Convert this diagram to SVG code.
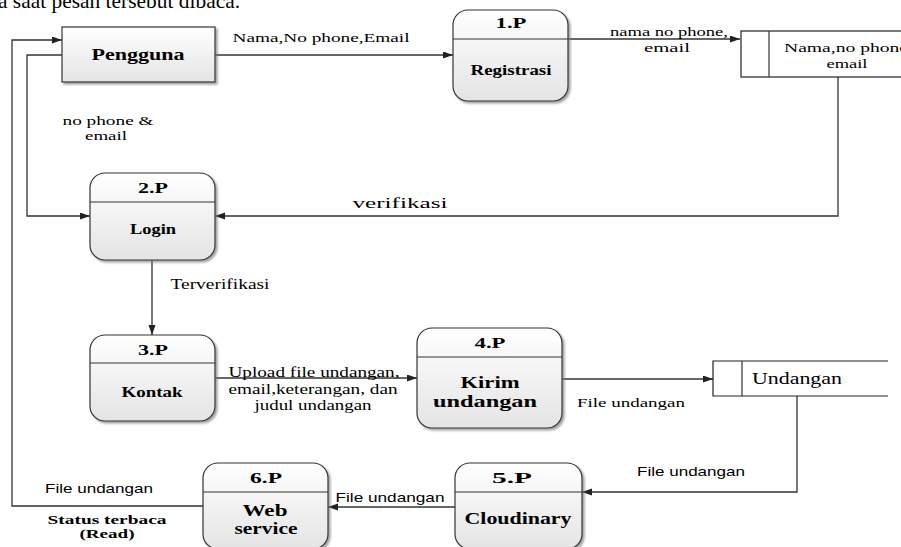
<svg xmlns="http://www.w3.org/2000/svg" width="901" height="547" viewBox="0 0 901 547">
<style>
.n{font-family:"Liberation Serif","Times New Roman",serif;font-weight:bold;fill:#000;text-anchor:middle}
.t{font-family:"Liberation Serif","Times New Roman",serif;fill:#000;text-anchor:middle}
.s{font-family:"Liberation Sans",Arial,sans-serif;fill:#000;text-anchor:middle}
.box{fill:url(#g);stroke:#333;stroke-width:1.2;filter:url(#sh)}
.div{stroke:#333;stroke-width:1.2}
.c{fill:none;stroke:#333;stroke-width:1.3;marker-end:url(#a)}
.st{fill:#fff;stroke:#222;stroke-width:1.2}
</style>
<defs>
<linearGradient id="g" x1="0" y1="0" x2="0" y2="1"><stop offset="0" stop-color="#ffffff"/><stop offset="1" stop-color="#e4e4e4"/></linearGradient>
<filter id="sh" x="-10%" y="-10%" width="130%" height="130%"><feDropShadow dx="2" dy="2" stdDeviation="1" flood-color="#777" flood-opacity="0.7"/></filter>
<marker id="a" markerWidth="11" markerHeight="8" refX="10" refY="3.5" orient="auto" markerUnits="userSpaceOnUse"><path d="M0,0 L10,3.5 L0,7 z" fill="#222"/></marker>
</defs>
<text x="-2" y="8" font-family="Liberation Serif,serif" font-size="21" textLength="242" lengthAdjust="spacingAndGlyphs">a saat pesan tersebut dibaca.</text>
<g id="connectors">
<path class="c" d="M215,55 H453"/>
<path class="c" d="M568,39 H740"/>
<path class="c" d="M838,77 V216 H215"/>
<path class="c" d="M62,55 H27 V216 H90"/>
<path class="c" d="M152,260 V335"/>
<path class="c" d="M215,378 H417"/>
<path class="c" d="M562,379 H713"/>
<path class="c" d="M797,396 V492 H582"/>
<path class="c" d="M455,507 H328"/>
<path class="c" d="M203,506 H12 V40 H62"/>
<text class="t" x="321" y="42" font-size="13.5" textLength="177" lengthAdjust="spacingAndGlyphs">Nama,No phone,Email</text>
<text class="t" x="669" y="36" font-size="13.5" textLength="118" lengthAdjust="spacingAndGlyphs">nama no phone,</text>
<text class="t" x="667" y="52" font-size="13.5" textLength="46" lengthAdjust="spacingAndGlyphs">email</text>
<text class="t" x="108" y="125" font-size="13.5" textLength="91" lengthAdjust="spacingAndGlyphs">no phone &amp;</text>
<text class="t" x="106" y="140" font-size="13.5" textLength="42" lengthAdjust="spacingAndGlyphs">email</text>
<text class="t" x="400" y="208" font-size="15" textLength="95" lengthAdjust="spacingAndGlyphs">verifikasi</text>
<text class="t" x="220" y="289" font-size="14" textLength="99" lengthAdjust="spacingAndGlyphs">Terverifikasi</text>
<text class="t" x="314" y="377" font-size="14" textLength="171" lengthAdjust="spacingAndGlyphs">Upload file undangan,</text>
<text class="t" x="313" y="394" font-size="14" textLength="169" lengthAdjust="spacingAndGlyphs">email,keterangan, dan</text>
<text class="t" x="313" y="410" font-size="14" textLength="117" lengthAdjust="spacingAndGlyphs">judul undangan</text>
<text class="t" x="631" y="407" font-size="13.5" textLength="108" lengthAdjust="spacingAndGlyphs">File undangan</text>
<text class="s" x="691" y="476" font-size="13" textLength="108" lengthAdjust="spacingAndGlyphs">File undangan</text>
<text class="s" x="390" y="502" font-size="13" textLength="109" lengthAdjust="spacingAndGlyphs">File undangan</text>
<text class="s" x="99" y="493" font-size="13" textLength="108" lengthAdjust="spacingAndGlyphs">File undangan</text>
<text class="n" x="107" y="524" font-size="13.5" textLength="119" lengthAdjust="spacingAndGlyphs">Status terbaca</text>
<text class="n" x="107" y="538" font-size="13.5" textLength="55" lengthAdjust="spacingAndGlyphs">(Read)</text>
</g>
<g id="pengguna">
<rect class="box" x="62" y="27" width="153" height="55"/>
<text class="n" x="138" y="60" font-size="16" textLength="93" lengthAdjust="spacingAndGlyphs">Pengguna</text>
</g>
<g id="p1">
<rect class="box" x="453" y="10" width="115" height="91" rx="15"/>
<line class="div" x1="453" y1="39" x2="568" y2="39"/>
<text class="n" x="511" y="28" font-size="15" textLength="31" lengthAdjust="spacingAndGlyphs">1.P</text>
<text class="n" x="511" y="75" font-size="14" textLength="81" lengthAdjust="spacingAndGlyphs">Registrasi</text>
</g>
<g id="store1">
<rect class="st" x="741" y="31" width="180" height="46"/>
<line class="div" x1="769" y1="31" x2="769" y2="77"/>
<text class="t" x="846" y="52" font-size="13.5" textLength="124" lengthAdjust="spacingAndGlyphs">Nama,no phone</text>
<text class="t" x="847" y="68" font-size="13.5" textLength="41" lengthAdjust="spacingAndGlyphs">email</text>
</g>
<g id="p2">
<rect class="box" x="90" y="173" width="125" height="87" rx="15"/>
<line class="div" x1="90" y1="202" x2="215" y2="202"/>
<text class="n" x="153" y="193" font-size="15" textLength="30" lengthAdjust="spacingAndGlyphs">2.P</text>
<text class="n" x="153" y="234" font-size="14" textLength="46" lengthAdjust="spacingAndGlyphs">Login</text>
</g>
<g id="p3">
<rect class="box" x="90" y="335" width="125" height="86" rx="15"/>
<line class="div" x1="90" y1="363" x2="215" y2="363"/>
<text class="n" x="153" y="355" font-size="15" textLength="30" lengthAdjust="spacingAndGlyphs">3.P</text>
<text class="n" x="152" y="397" font-size="14" textLength="61" lengthAdjust="spacingAndGlyphs">Kontak</text>
</g>
<g id="p4">
<rect class="box" x="417" y="328" width="145" height="100" rx="15"/>
<line class="div" x1="417" y1="357" x2="562" y2="357"/>
<text class="n" x="490" y="348" font-size="15" textLength="31" lengthAdjust="spacingAndGlyphs">4.P</text>
<text class="n" x="490" y="388" font-size="17" textLength="59" lengthAdjust="spacingAndGlyphs">Kirim</text>
<text class="n" x="485" y="407" font-size="17" textLength="104" lengthAdjust="spacingAndGlyphs">undangan</text>
</g>
<g id="store2">
<path class="st" d="M888,361 H713 V396 H888"/>
<line class="div" x1="742" y1="361" x2="742" y2="396"/>
<text x="752" y="384" font-family="Liberation Serif,serif" font-size="16" textLength="90" lengthAdjust="spacingAndGlyphs">Undangan</text>
</g>
<g id="p5">
<rect class="box" x="455" y="463" width="127" height="86" rx="15"/>
<line class="div" x1="455" y1="492" x2="582" y2="492"/>
<text class="n" x="512" y="483" font-size="15" textLength="40" lengthAdjust="spacingAndGlyphs">5.P</text>
<text class="n" x="518" y="524" font-size="17" textLength="107" lengthAdjust="spacingAndGlyphs">Cloudinary</text>
</g>
<g id="p6">
<rect class="box" x="203" y="463" width="125" height="86" rx="15"/>
<line class="div" x1="203" y1="492" x2="328" y2="492"/>
<text class="n" x="266" y="483" font-size="15" textLength="32" lengthAdjust="spacingAndGlyphs">6.P</text>
<text class="n" x="265" y="516" font-size="17" textLength="45" lengthAdjust="spacingAndGlyphs">Web</text>
<text class="n" x="266" y="534" font-size="17" textLength="63" lengthAdjust="spacingAndGlyphs">service</text>
</g>
</svg>
